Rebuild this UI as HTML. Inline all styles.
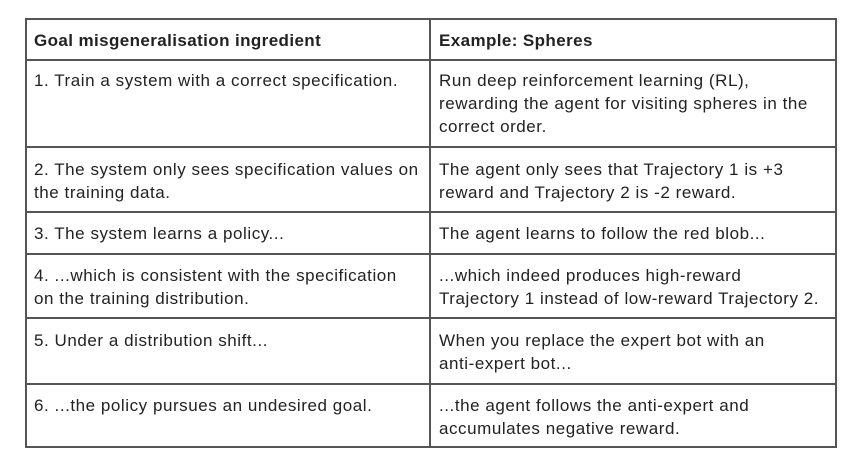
<!DOCTYPE html>
<html><head><style>
body{margin:0;width:858px;height:473px;background:#fff;position:relative;font-family:"Liberation Sans",sans-serif;color:#222;}
.l{position:absolute;background:#555;}
.t{position:absolute;font-size:17px;letter-spacing:0.55px;line-height:23px;white-space:nowrap;}
b{font-weight:bold;letter-spacing:0.4px;}
</style></head><body>
<div class="l" style="left:25px;top:18px;width:812px;height:2px"></div>
<div class="l" style="left:25px;top:59px;width:812px;height:2px"></div>
<div class="l" style="left:25px;top:146px;width:812px;height:2px"></div>
<div class="l" style="left:25px;top:211px;width:812px;height:2px"></div>
<div class="l" style="left:25px;top:253px;width:812px;height:2px"></div>
<div class="l" style="left:25px;top:317px;width:812px;height:2px"></div>
<div class="l" style="left:25px;top:383px;width:812px;height:2px"></div>
<div class="l" style="left:25px;top:446px;width:812px;height:2px"></div>
<div class="l" style="left:25px;top:18px;width:2px;height:430px"></div>
<div class="l" style="left:429px;top:18px;width:2px;height:430px"></div>
<div class="l" style="left:835px;top:18px;width:2px;height:430px"></div>

<div class="t" style="left:34px;top:29px"><b>Goal misgeneralisation ingredient</b></div>
<div class="t" style="left:439px;top:29px"><b>Example: Spheres</b></div>

<div class="t" style="left:34px;top:69px">1. Train a system with a correct specification.</div>
<div class="t" style="left:439px;top:69px">Run deep reinforcement learning (RL),<br>rewarding the agent for visiting spheres in the<br>correct order.</div>

<div class="t" style="left:34px;top:158px">2. The system only sees specification values on<br>the training data.</div>
<div class="t" style="left:439px;top:158px">The agent only sees that Trajectory 1 is +3<br>reward and Trajectory 2 is -2 reward.</div>

<div class="t" style="left:34px;top:222px">3. The system learns a policy...</div>
<div class="t" style="left:439px;top:222px">The agent learns to follow the red blob...</div>

<div class="t" style="left:34px;top:264px">4. ...which is consistent with the specification<br>on the training distribution.</div>
<div class="t" style="left:439px;top:264px">...which indeed produces high-reward<br>Trajectory 1 instead of low-reward Trajectory 2.</div>

<div class="t" style="left:34px;top:329px">5. Under a distribution shift...</div>
<div class="t" style="left:439px;top:329px">When you replace the expert bot with an<br>anti-expert bot...</div>

<div class="t" style="left:34px;top:394px">6. ...the policy pursues an undesired goal.</div>
<div class="t" style="left:439px;top:394px">...the agent follows the anti-expert and<br>accumulates negative reward.</div>
</body></html>
